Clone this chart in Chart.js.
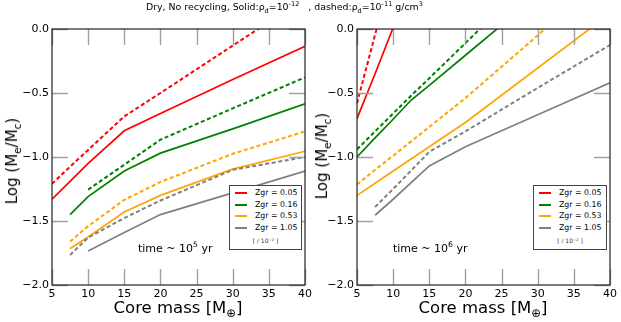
<!DOCTYPE html>
<html><head><meta charset="utf-8">
<script src="https://cdn.jsdelivr.net/npm/chart.js@4/dist/chart.umd.min.js"></script>
<style>
body{margin:0;background:#fff;width:621px;height:322px;position:relative;overflow:hidden;font-family:"DejaVu Sans",sans-serif;color:#000}
.abs{position:absolute;white-space:nowrap}
canvas{position:absolute;left:0;top:0}
sub,sup{font-size:70%;line-height:0}
.legend{position:absolute;background:#fff;border:1px solid #444;box-sizing:border-box;font-size:7.8px}
.legend .row{position:absolute;left:25px;white-space:nowrap;line-height:10px;height:10px}
.legend .swatch{position:absolute;left:5px;width:12px;height:2px}
.legend .note{position:absolute;left:0;right:0;text-align:center;font-size:6px;color:#333}
.ytitle{position:absolute;white-space:nowrap;font-size:15px;transform:translate(-50%,-50%) rotate(-90deg)}
.xtitle{position:absolute;white-space:nowrap;font-size:16.5px;transform:translateX(-50%)}
.note-time{position:absolute;white-space:nowrap;font-size:11px}
</style></head><body>
<canvas id="c1" width="320" height="322"></canvas>
<canvas id="c2" width="321" height="322" style="left:300px"></canvas>
<div class="abs" style="left:146px;top:1px;font-size:9.4px">Dry, No recycling, Solid:ρ<sub>d</sub>=10<sup>-12</sup>&nbsp;&nbsp;&nbsp;, dashed:ρ<sub>d</sub>=10<sup>-11</sup> g/cm<sup>3</sup></div>
<div class="ytitle" style="left:12px;top:161px">Log (M<sub>e</sub>/M<sub>c</sub>)</div>
<div class="ytitle" style="left:322px;top:156px">Log (M<sub>e</sub>/M<sub>c</sub>)</div>
<div class="xtitle" style="left:178px;top:298px">Core mass [M<sub>⊕</sub>]</div>
<div class="xtitle" style="left:483px;top:298px">Core mass [M<sub>⊕</sub>]</div>
<div class="note-time" style="left:138px;top:242px">time ~ 10<sup>5</sup> yr</div>
<div class="note-time" style="left:393px;top:242px">time ~ 10<sup>6</sup> yr</div>
<div id="leg1" class="legend" style="left:229px;top:185px;width:73px;height:65px"></div>
<div id="leg2" class="legend" style="left:533px;top:185px;width:74px;height:65px"></div>
<script>
// ---- data ----
const coreMass = [5, 7.5, 10, 12.5, 15, 20, 30, 40];
const zgrLabels = ['Zgr = 0.05', 'Zgr = 0.16', 'Zgr = 0.53', 'Zgr = 1.05'];
const zgrColors = ['#ff0000', '#008000', '#ffa500', '#808080'];
const legendNote = '[ / 10⁻² ]';
const yTickValues = [0, -0.5, -1, -1.5, -2];

// time ~ 1e5 yr, solid (rho_d = 1e-12)
const t5Solid005 = [-1.33, -1.19, -1.05, null, -0.795, -0.66, -0.395, -0.135];
const t5Solid016 = [null, -1.45, -1.31, null, -1.11, -0.97, -0.78, -0.585];
const t5Solid053 = [null, -1.715, -1.625, null, -1.43, -1.30, -1.095, -0.955];
const t5Solid105 = [null, null, -1.735, null, -1.59, -1.45, -1.28, -1.11];
// time ~ 1e5 yr, dashed (rho_d = 1e-11)
const t5Dash005 = [-1.21, -1.075, -0.945, null, -0.683, -0.50, -0.13, 0.24];
const t5Dash016 = [null, null, -1.255, null, -1.06, -0.865, -0.62, -0.378];
const t5Dash053 = [null, -1.66, -1.54, null, -1.335, -1.195, -0.975, -0.80];
const t5Dash105 = [null, -1.765, -1.63, null, -1.477, -1.34, -1.10, -1.00];

// time ~ 1e6 yr, solid
const t6Solid005 = [-0.70, -0.35, 0.01, null, null, null, null, null];
const t6Solid016 = [-1.0, -0.85, -0.705, -0.555, -0.44, -0.205, 0.265, null];
const t6Solid053 = [-1.30, -1.205, -1.11, null, -0.92, -0.73, -0.305, 0.12];
const t6Solid105 = [null, -1.455, -1.33, null, -1.07, -0.92, -0.67, -0.42];
// time ~ 1e6 yr, dashed
const t6Dash005 = [-0.58, -0.045, 0.49, null, null, null, null, null];
const t6Dash016 = [-0.94, -0.80, -0.66, -0.52, -0.385, -0.11, 0.44, null];
const t6Dash053 = [-1.215, -1.10, -0.99, null, -0.765, -0.54, -0.05, 0.45];
const t6Dash105 = [null, -1.39, -1.25, null, -0.96, -0.80, -0.46, -0.125];

const FONT = '"DejaVu Sans", sans-serif';
const TICK = 16;

function pts(vals) {
  return coreMass.map((m, i) => ({x: m, y: vals[i]})).filter(p => p.y !== null);
}
function ds(vals, idx, dashed) {
  return {
    data: pts(vals),
    borderColor: zgrColors[idx],
    borderWidth: dashed ? 2 : 1.7,
    borderDash: dashed ? [4, 2.6] : [],
    pointRadius: 0,
    tension: 0,
    fill: false,
    spanGaps: true
  };
}

const framePlugin = {
  id: 'frame',
  afterDatasetsDraw(chart) {
    const {ctx, chartArea: a, scales: {x, y}} = chart;
    ctx.save();
    ctx.strokeStyle = '#a0a0a0';
    ctx.lineWidth = 1.4;
    ctx.beginPath();
    x.ticks.forEach(t => {
      const px = Math.round(x.getPixelForValue(t.value)) + 0.5;
      ctx.moveTo(px, a.bottom); ctx.lineTo(px, a.bottom - TICK);
      ctx.moveTo(px, a.top); ctx.lineTo(px, a.top + TICK);
    });
    y.ticks.forEach(t => {
      const py = Math.round(y.getPixelForValue(t.value)) + 0.5;
      ctx.moveTo(a.left, py); ctx.lineTo(a.left + TICK, py);
      ctx.moveTo(a.right, py); ctx.lineTo(a.right - TICK, py);
    });
    ctx.stroke();
    ctx.strokeStyle = '#222';
    ctx.lineWidth = 1.2;
    ctx.strokeRect(a.left, a.top, a.right - a.left, a.bottom - a.top);
    ctx.restore();
  }
};

function makeChart(id, series, yWidth, padRight) {
  return new Chart(document.getElementById(id), {
    type: 'line',
    data: {datasets: series},
    options: {
      responsive: false,
      animation: false,
      devicePixelRatio: 1,
      layout: {padding: {left: 0, top: 29, right: padRight, bottom: 0}},
      plugins: {legend: {display: false}, tooltip: {enabled: false}},
      scales: {
        x: {
          type: 'linear', min: 5, max: 40,
          ticks: {stepSize: 5, color: '#000', font: {family: FONT, size: 11}, padding: 3, maxRotation: 0, autoSkip: false},
          grid: {display: false, drawTicks: false},
          border: {display: false},
          afterFit(s) { s.height = 37; }
        },
        y: {
          type: 'linear', min: -2, max: 0,
          afterBuildTicks(s) { s.ticks = yTickValues.map(v => ({value: v})); },
          ticks: {
            color: '#000', font: {family: FONT, size: 11}, padding: 3,
            callback: v => v.toFixed(1).replace('-', '\u2212')
          },
          grid: {display: false, drawTicks: false},
          border: {display: false},
          afterFit(s) { s.width = yWidth; }
        }
      }
    },
    plugins: [framePlugin]
  });
}

makeChart('c1', [
  ds(t5Dash005, 0, true), ds(t5Dash016, 1, true), ds(t5Dash053, 2, true), ds(t5Dash105, 3, true),
  ds(t5Solid005, 0, false), ds(t5Solid016, 1, false), ds(t5Solid053, 2, false), ds(t5Solid105, 3, false)
], 52, 15);
makeChart('c2', [
  ds(t6Dash005, 0, true), ds(t6Dash016, 1, true), ds(t6Dash053, 2, true), ds(t6Dash105, 3, true),
  ds(t6Solid005, 0, false), ds(t6Solid016, 1, false), ds(t6Solid053, 2, false), ds(t6Solid105, 3, false)
], 57, 11);

function buildLegend(id) {
  const box = document.getElementById(id);
  zgrLabels.forEach((lab, i) => {
    const top = 2 + i * 11.7;
    const sw = document.createElement('div');
    sw.className = 'swatch';
    sw.style.top = (top + 4) + 'px';
    sw.style.background = zgrColors[i];
    box.appendChild(sw);
    const r = document.createElement('div');
    r.className = 'row';
    r.style.top = top + 'px';
    r.textContent = lab;
    box.appendChild(r);
  });
  const n = document.createElement('div');
  n.className = 'note';
  n.style.top = '51px';
  n.textContent = legendNote;
  box.appendChild(n);
}
buildLegend('leg1');
buildLegend('leg2');
</script>
</body></html>
